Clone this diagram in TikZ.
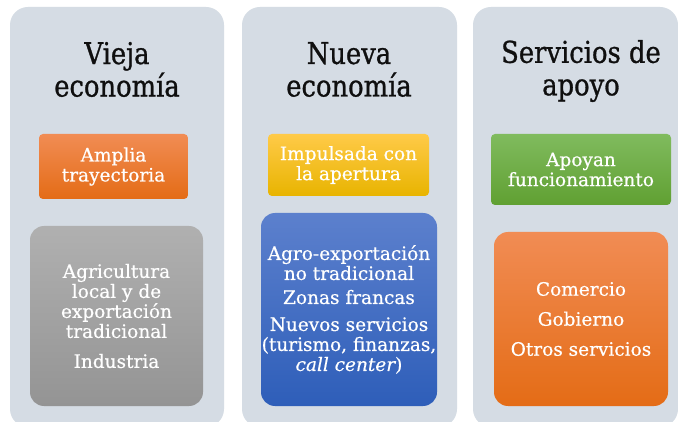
\documentclass[tikz,border=0pt]{standalone}
\usepackage{fontspec}
\setmainfont[FakeBold=0.4]{DejaVu Serif}
\newfontfamily\boxfont[FakeBold=0.5]{DejaVu Serif}
\newfontfamily\titlefont[FakeStretch=0.86,FakeBold=0.9]{DejaVu Serif}
\definecolor{panelbg}{RGB}{213,220,228}
\definecolor{orTop}{RGB}{241,140,84}
\definecolor{orMid}{RGB}{244,125,48}
\definecolor{orBot}{RGB}{228,108,22}
\definecolor{grTop}{RGB}{176,176,176}
\definecolor{grMid}{RGB}{163,163,163}
\definecolor{grBot}{RGB}{148,148,148}
\definecolor{yeTop}{RGB}{255,202,72}
\definecolor{yeMid}{RGB}{255,193,0}
\definecolor{yeBot}{RGB}{232,180,0}
\definecolor{blTop}{RGB}{92,128,205}
\definecolor{blMid}{RGB}{68,112,198}
\definecolor{blBot}{RGB}{46,94,185}
\definecolor{gnTop}{RGB}{128,187,94}
\definecolor{gnMid}{RGB}{110,174,66}
\definecolor{gnBot}{RGB}{96,160,50}
\definecolor{titletext}{RGB}{15,15,15}
\begin{document}
\begin{tikzpicture}[x=1pt,y=-1pt,
  panel/.style={fill=panelbg, draw=none, rounded corners=18pt, outer sep=0pt, inner sep=0pt, anchor=north west},
  titletext/.style={text=titletext, align=center, inner sep=0pt, font=\titlefont\fontsize{30}{32.5}\selectfont},
  boxbase/.style={draw=none, outer sep=0pt, inner sep=0pt, anchor=north west, text=white, align=center, font=\boxfont\fontsize{18.5}{20}\selectfont},
  smallbox/.style={boxbase, rounded corners=4pt},
  bigbox/.style={boxbase, rounded corners=14pt},
  orangeshade/.style={top color=orTop, middle color=orMid, bottom color=orBot},
  grayshade/.style={top color=grTop, middle color=grMid, bottom color=grBot},
  yellowshade/.style={top color=yeTop, middle color=yeMid, bottom color=yeBot},
  blueshade/.style={top color=blTop, middle color=blMid, bottom color=blBot},
  greenshade/.style={top color=gnTop, middle color=gnMid, bottom color=gnBot}
]
\useasboundingbox (0,0) rectangle (678,422);
\clip (0,0) rectangle (678,422);
\fill[white] (0,0) rectangle (678,422);
% panels
\node[panel, minimum width=214pt, minimum height=420pt] (p1) at (10,7) {};
\node[panel, minimum width=215pt, minimum height=420pt] (p2) at (242,7) {};
\node[panel, minimum width=205pt, minimum height=420pt] (p3) at (473,7) {};
% titles
\node[titletext] (t1) at (117,69.5) {Vieja\\economía};
\node[titletext] (t2) at (349,69.5) {Nueva\\economía};
\node[titletext] (t3) at (581,71) {Servicios de\\apoyo};
% column 1
\node[smallbox, orangeshade, minimum width=149pt, minimum height=65pt] (a1) at (39,134) {Amplia\\trayectoria};
\node[bigbox, grayshade, minimum width=173pt, minimum height=180pt] (a2) at (30,226) {Agricultura\\local y de\\exportación\\tradicional\\[10pt]Industria};
% column 2
\node[smallbox, yellowshade, minimum width=161pt, minimum height=62pt] (b1) at (268,134) {Impulsada con\\la apertura};
\node[bigbox, blueshade, minimum width=176pt, minimum height=193pt] (b2) at (261,213) {Agro-exportación\\no tradicional\\[4pt]Zonas francas\\[7pt]Nuevos servicios\\(turismo, finanzas,\\{\itshape call center})};
% column 3
\node[smallbox, greenshade, minimum width=180pt, minimum height=71pt] (c1) at (491,134) {Apoyan\\funcionamiento};
\node[bigbox, orangeshade, minimum width=174pt, minimum height=174pt] (c2) at (494,232) {Comercio\\[10pt]Gobierno\\[10pt]Otros servicios};
\end{tikzpicture}
\end{document}
